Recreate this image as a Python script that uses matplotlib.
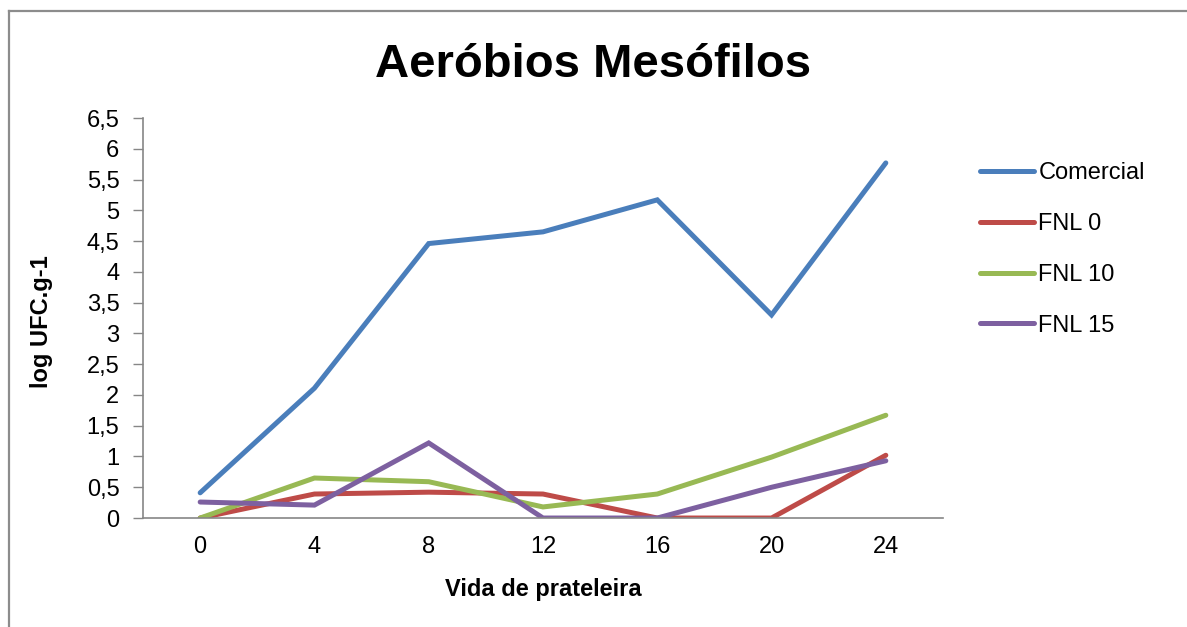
import matplotlib
matplotlib.use("Agg")
import matplotlib.pyplot as plt
from matplotlib.lines import Line2D

plt.rcParams['font.family'] = ['Liberation Sans', 'DejaVu Sans']

days = ["0", "4", "8", "12", "16", "20", "24"]
comercial = [0.41, 2.11, 4.46, 4.65, 5.17, 3.30, 5.77]
fnl0 = [0.00, 0.39, 0.42, 0.39, 0.00, 0.00, 1.02]
fnl10 = [0.00, 0.65, 0.59, 0.18, 0.39, 0.99, 1.67]
fnl15 = [0.26, 0.21, 1.22, 0.00, 0.00, 0.50, 0.93]

series_names = ["Comercial", "FNL 0", "FNL 10", "FNL 15"]
series_values = [comercial, fnl0, fnl10, fnl15]
colors = ["#4A7EBB", "#BE4B48", "#98B954", "#7D60A0"]

y_ticks = [0, 0.5, 1, 1.5, 2, 2.5, 3, 3.5, 4, 4.5, 5, 5.5, 6, 6.5]
y_tick_labels = [("%g" % v).replace(".", ",") for v in y_ticks]

fig = plt.figure(figsize=(11.87, 6.27), dpi=100)
ax = fig.add_axes([0.1205, 0.1738, 0.6739, 0.6380])

x = list(range(len(days)))
for name, vals, c in zip(series_names, series_values, colors):
    ax.plot(x, vals, color=c, lw=3.6, label=name, solid_capstyle='round',
            solid_joinstyle='miter')

ax.set_xlim(-0.5, len(days) - 0.5)
ax.set_ylim(0, 6.5)
ax.set_xticks(x)
ax.set_xticklabels(days, fontsize=17)
ax.set_yticks(y_ticks)
ax.set_yticklabels(y_tick_labels, fontsize=17)
ax.tick_params(axis='x', length=0, pad=13)
ax.tick_params(axis='y', length=7, width=1, color='#868686', pad=10, direction='out')
for s in ['top', 'right']:
    ax.spines[s].set_visible(False)
for s in ['left', 'bottom']:
    ax.spines[s].set_color('#868686')
    ax.spines[s].set_linewidth(1.2)

ax.set_xlabel("Vida de prateleira", fontsize=17, fontweight='bold')
ax.set_ylabel("log UFC.g-1", fontsize=17, fontweight='bold')
ax.xaxis.set_label_coords(0.5, -0.15)
ax.yaxis.set_label_coords(-0.113, 0.49)
fig.text(0.5, 0.897, "Aeróbios Mesófilos", fontsize=34, fontweight='bold',
         ha='center', va='center')

leg = ax.legend(loc='upper left', bbox_to_anchor=(1.035, 0.913), frameon=False,
                fontsize=17, handlelength=2.25, handletextpad=0.21,
                labelspacing=1.22, borderaxespad=0)

# chart frame
fig.add_artist(Line2D([0.0076, 1.0], [0.9825, 0.9825], transform=fig.transFigure,
                      color='#8C8C8C', lw=1.6))
fig.add_artist(Line2D([0.0076, 0.0076], [0.0, 0.9825], transform=fig.transFigure,
                      color='#8C8C8C', lw=1.6))

fig.savefig("out.png", dpi=100)
